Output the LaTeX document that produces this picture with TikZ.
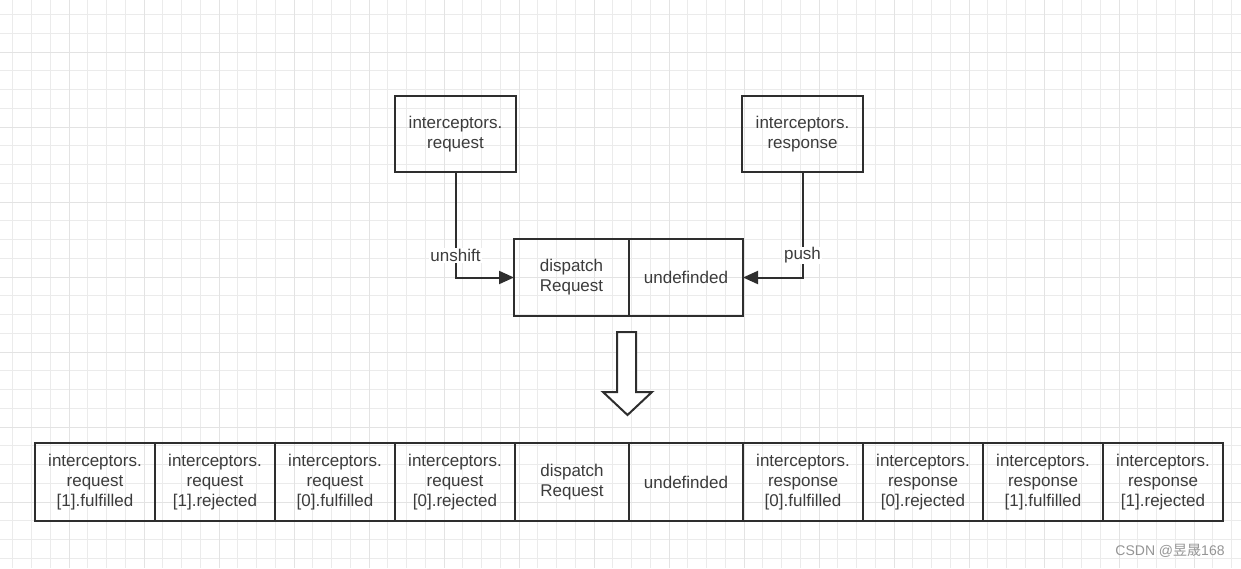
\documentclass[tikz,border=0pt]{standalone}
\usepackage{fontspec}
\setmainfont{Liberation Sans}
\newfontfamily\cjk{Noto Sans CJK SC}
\usetikzlibrary{arrows.meta}
\definecolor{minorgrid}{HTML}{EBEBEB}
\definecolor{majorgrid}{HTML}{E3E3E3}
\definecolor{boxline}{HTML}{2E2E2E}
\definecolor{txt}{HTML}{3C3C3C}
\definecolor{wm}{HTML}{959595}
\tikzset{
  cell/.style={draw=boxline, line width=2.2pt, rectangle, align=center, text=txt,
    font=\fontsize{17}{20}\selectfont, inner sep=0pt, outer sep=0pt,
    minimum height=#1},
  cell/.default=78pt,
  conn/.style={draw=boxline, line width=2pt, -{Triangle[length=15pt,width=13pt]}},
  lbl/.style={fill=white, text=txt, font=\fontsize{17}{20}\selectfont, inner sep=1pt}
}
\begin{document}
\begin{tikzpicture}[x=1pt,y=-1pt]
\useasboundingbox (0,0) rectangle (1241,568);
\fill[white] (0,0) rectangle (1241,568);
% grid
\foreach \i in {0,...,66} {
  \pgfmathsetmacro{\xx}{12.75+18.75*\i}
  \draw[minorgrid, line width=1pt] (\xx,0) -- (\xx,568);
}
\foreach \i in {0,...,30} {
  \pgfmathsetmacro{\yy}{14.5+18.75*\i}
  \draw[minorgrid, line width=1pt] (0,\yy) -- (1241,\yy);
}
\foreach \i in {0,...,16} {
  \pgfmathsetmacro{\xx}{69+75*\i}
  \draw[majorgrid, line width=1pt] (\xx,0) -- (\xx,568);
}
\foreach \i in {0,...,7} {
  \pgfmathsetmacro{\yy}{52+75*\i}
  \draw[majorgrid, line width=1pt] (0,\yy) -- (1241,\yy);
}
% top boxes
\node[cell=76pt, minimum width=121pt] (req) at (455.5,134) {interceptors.\\request};
\node[cell=76pt, minimum width=121pt] (resp) at (802.5,134) {interceptors.\\response};
\node[cell=77pt, minimum width=115pt] (disp) at (571.5,277.5) {dispatch\\Request};
\node[cell=77pt, minimum width=114pt] (undef) at (686,277.5) {undefinded};
% connectors
\draw[conn] (req.south) |- node[lbl, pos=0.396] {unshift} (disp.west);
\draw[conn] (resp.south) |- node[lbl, pos=0.396] {push} (undef.east);
% hollow arrow
\draw[boxline, line width=2pt, fill=white, line join=miter]
  (617,332) -- (636,332) -- (636,392) -- (652,392) -- (627.5,415) -- (603,392) -- (617,392) -- cycle;
% bottom row
\node[cell, minimum width=120pt] (b1) at (95,482) {interceptors.\\request\\{}[1].fulfilled};
\node[cell, minimum width=120pt] (b2) at (215,482) {interceptors.\\request\\{}[1].rejected};
\node[cell, minimum width=120pt] (b3) at (335,482) {interceptors.\\request\\{}[0].fulfilled};
\node[cell, minimum width=120pt] (b4) at (455,482) {interceptors.\\request\\{}[0].rejected};
\node[cell, minimum width=114pt] (b5) at (572,482) {dispatch\\Request};
\node[cell, minimum width=114pt] (b6) at (686,482) {undefinded};
\node[cell, minimum width=120pt] (b7) at (803,482) {interceptors.\\response\\{}[0].fulfilled};
\node[cell, minimum width=120pt] (b8) at (923,482) {interceptors.\\response\\{}[0].rejected};
\node[cell, minimum width=120pt] (b9) at (1043,482) {interceptors.\\response\\{}[1].fulfilled};
\node[cell, minimum width=120pt] (b10) at (1163,482) {interceptors.\\response\\{}[1].rejected};
% watermark
\node[text=wm, font=\fontsize{14}{16}\selectfont, inner sep=0pt] (wmk) at (1170,551) {CSDN @{\cjk 昱晟}168};
\end{tikzpicture}
\end{document}
